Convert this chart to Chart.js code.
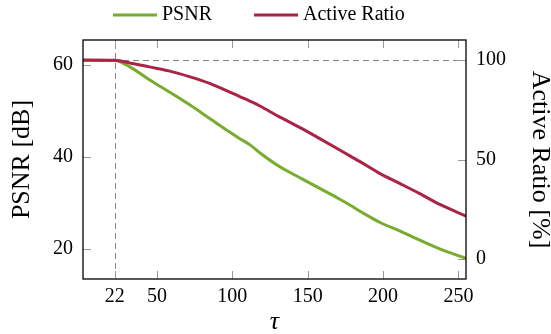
<!DOCTYPE html>
<html>
<head>
<meta charset="utf-8">
<script src="https://cdn.jsdelivr.net/npm/chart.js@4.4.0/dist/chart.umd.min.js"></script>
<style>
    html, body { margin: 0; padding: 0; background: #fff; }
</style>
</head>
<body>
<canvas id="chart" width="551" height="334"></canvas>
<script>
// Data
const tauValues = [1, 22, 32, 45, 58, 72, 85, 98, 105, 112, 118, 131, 145, 158, 171, 178, 185, 198, 211, 224, 238, 255];
const psnrValues = [60.9, 60.9, 59.5, 56.7, 54.1, 51.2, 48.3, 45.4, 43.9, 42.5, 40.9, 37.9, 35.4, 33.1, 30.8, 29.5, 28.1, 25.7, 23.9, 21.9, 19.9, 17.9];
const activeRatioValues = [100, 99.8, 98.5, 96.5, 94.5, 91.5, 88.2, 84.0, 81.6, 79.2, 77.0, 71.5, 66.0, 60.5, 54.9, 51.8, 48.8, 42.9, 38.0, 33.0, 27.3, 21.6];

const tauTicks = [22, 50, 100, 150, 200, 250];
const psnrTicks = [20, 40, 60];
const ratioTicks = [0, 50, 100];
const cutoffTau = 22;
const fullRatio = 100;

const FONT = "'Liberation Serif', 'DejaVu Serif', serif";
const GREEN = '#77ac30';
const RED = '#ab2447';

// Legend drawn above the plot like the pgfplots one
const topLegend = {
    id: 'topLegend',
    afterDraw(chart) {
        const ctx = chart.ctx;
        ctx.save();
        ctx.font = '20px ' + FONT;
        ctx.textBaseline = 'middle';
        ctx.fillStyle = '#000';
        let x = 113;
        const y = 15;
        chart.data.datasets.forEach(ds => {
            ctx.strokeStyle = ds.borderColor;
            ctx.lineWidth = 3;
            ctx.beginPath();
            ctx.moveTo(x, y);
            ctx.lineTo(x + 44, y);
            ctx.stroke();
            ctx.fillText(ds.label, x + 49, y);
            x += 49 + ctx.measureText(ds.label).width + 42;
        });
        ctx.restore();
    }
};

// Dashed helper lines, inward tick marks and the frame
const frame = {
    id: 'frame',
    beforeDatasetsDraw(chart) {
        const {ctx, chartArea: a, scales} = chart;
        ctx.save();
        ctx.strokeStyle = '#888';
        ctx.lineWidth = 1;
        ctx.setLineDash([6, 4]);
        const xc = Math.round(scales.x.getPixelForValue(cutoffTau)) + 0.5;
        ctx.beginPath();
        ctx.moveTo(xc, a.bottom);
        ctx.lineTo(xc, a.top);
        const yc = Math.round(scales.y1.getPixelForValue(fullRatio)) + 0.5;
        ctx.moveTo(a.left, yc);
        ctx.lineTo(a.right, yc);
        ctx.stroke();
        ctx.restore();
    },
    afterDatasetsDraw(chart) {
        const {ctx, chartArea: a, scales} = chart;
        const len = 8;
        ctx.save();
        ctx.strokeStyle = '#999';
        ctx.lineWidth = 1;
        ctx.beginPath();
        tauTicks.forEach(v => {
            const px = Math.round(scales.x.getPixelForValue(v)) + 0.5;
            ctx.moveTo(px, a.bottom); ctx.lineTo(px, a.bottom - len);
            ctx.moveTo(px, a.top); ctx.lineTo(px, a.top + len);
        });
        psnrTicks.forEach(v => {
            const py = Math.round(scales.y.getPixelForValue(v)) + 0.5;
            ctx.moveTo(a.left, py); ctx.lineTo(a.left + len, py);
        });
        ratioTicks.forEach(v => {
            const py = Math.round(scales.y1.getPixelForValue(v)) + 0.5;
            ctx.moveTo(a.right, py); ctx.lineTo(a.right - len, py);
        });
        ctx.stroke();
        ctx.strokeStyle = '#000';
        ctx.lineWidth = 1.3;
        ctx.strokeRect(a.left, a.top, a.right - a.left, a.bottom - a.top);
        ctx.restore();
    }
};

function fixTicks(list) {
    return scale => { scale.ticks = list.map(v => ({value: v})); };
}

const ctx = document.getElementById('chart').getContext('2d');
const chart = new Chart(ctx, {
    type: 'line',
    data: {
        datasets: [{
            label: 'PSNR',
            data: tauValues.map((t, i) => ({x: t, y: psnrValues[i]})),
            borderColor: GREEN,
            borderWidth: 3,
            pointRadius: 0,
            cubicInterpolationMode: 'monotone',
            yAxisID: 'y',
            order: 1
        }, {
            label: 'Active Ratio',
            data: tauValues.map((t, i) => ({x: t, y: activeRatioValues[i]})),
            borderColor: RED,
            borderWidth: 3,
            pointRadius: 0,
            cubicInterpolationMode: 'monotone',
            yAxisID: 'y1',
            order: 0
        }]
    },
    options: {
        responsive: false,
        animation: false,
        layout: { padding: { top: 40, left: 0, right: 0, bottom: 0 } },
        plugins: {
            legend: { display: false },
            tooltip: { enabled: false }
        },
        scales: {
            x: {
                type: 'linear',
                min: 1,
                max: 255,
                afterBuildTicks: fixTicks(tauTicks),
                afterFit: s => { s.height = 55; },
                grid: { display: false, drawTicks: false },
                border: { display: false },
                ticks: { color: '#000', padding: 6, font: { family: FONT, size: 20 } },
                title: {
                    display: true,
                    text: 'τ',
                    color: '#000',
                    font: { family: FONT, size: 26, style: 'italic', lineHeight: 0.8 },
                    padding: { top: 0, bottom: 1 }
                }
            },
            y: {
                type: 'linear',
                position: 'left',
                min: 13.42,
                max: 65.34,
                afterBuildTicks: fixTicks(psnrTicks),
                afterFit: s => { s.width = 83; },
                grid: { display: false, drawTicks: false },
                border: { display: false },
                ticks: { color: '#000', padding: 10, font: { family: FONT, size: 20 } },
                title: {
                    display: true,
                    text: 'PSNR [dB]',
                    color: '#000',
                    font: { family: FONT, size: 26, lineHeight: 0.8 },
                    padding: { top: 12, bottom: 0 }
                }
            },
            y1: {
                type: 'linear',
                position: 'right',
                min: -10,
                max: 110,
                afterBuildTicks: fixTicks(ratioTicks),
                afterFit: s => { s.width = 85; },
                grid: { display: false, drawTicks: false },
                border: { display: false },
                ticks: { color: '#000', padding: 10, font: { family: FONT, size: 20 } },
                title: {
                    display: true,
                    text: 'Active Ratio [%]',
                    color: '#000',
                    font: { family: FONT, size: 26, lineHeight: 0.8 },
                    padding: { top: 1, bottom: 0 }
                }
            }
        }
    },
    plugins: [topLegend, frame]
});
</script>
</body>
</html>
